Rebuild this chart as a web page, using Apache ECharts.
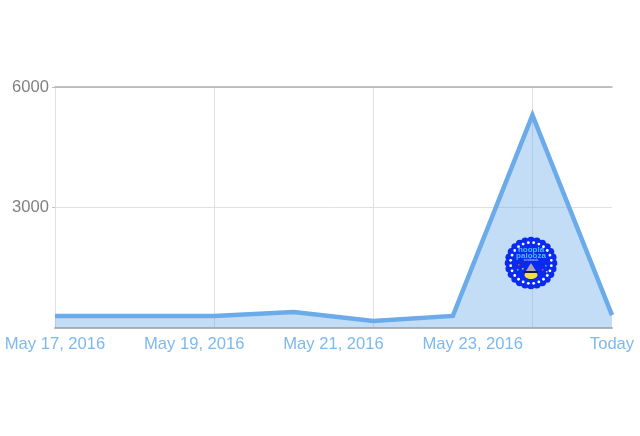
<!DOCTYPE html>
<html><head><meta charset="utf-8">
<style>html,body{margin:0;padding:0;background:#fff}#c{width:640px;height:436px}</style>
<script src="https://cdn.jsdelivr.net/npm/echarts@6/dist/echarts.min.js"></script>
</head><body><div id="c"></div>
<script>
const days = ['May 17','May 18','May 19','May 20','May 21','May 22','May 23','Today'];
const visits = [300,300,300,400,175,300,5300,320];
const xTickLabels = ['May 17, 2016','May 19, 2016','May 21, 2016','May 23, 2016','Today'];
const yTicks = [3000,6000];
const badgeTitle = ['hoopla','palooza'];
const badgeTagline = 'wristbands';

const chart = echarts.init(document.getElementById('c'), null, {renderer:'canvas'});
const font = '"Liberation Sans", Arial, sans-serif';
const cx = 531, cy = 263;
const blue = '#0a2af2';
const badge = [];
for (let i=0;i<24;i++){
  const a = i/24*Math.PI*2;
  badge.push({type:'circle',shape:{cx:cx+22.5*Math.cos(a),cy:cy+22.5*Math.sin(a),r:3.8},style:{fill:blue}});
}
badge.push({type:'circle',shape:{cx,cy,r:23},style:{fill:blue}});
for (let i=0;i<24;i++){
  const a = (i+0.5)/24*Math.PI*2;
  badge.push({type:'circle',shape:{cx:cx+20.5*Math.cos(a),cy:cy+20.5*Math.sin(a),r:1.4},style:{fill:'#ffffff'}});
}
badge.push({type:'text',style:{x:cx,y:cy-13.5,text:badgeTitle[0],fill:'#52b8f8',font:'bold 8px '+font,align:'center',verticalAlign:'middle'}});
badge.push({type:'text',style:{x:cx,y:cy-7,text:badgeTitle[1],fill:'#52b8f8',font:'bold 8px '+font,align:'center',verticalAlign:'middle'}});
badge.push({type:'text',style:{x:cx,y:cy-2.5,text:badgeTagline,fill:'#c8d8ff',font:'3px '+font,align:'center',verticalAlign:'middle'}});
badge.push({type:'polygon',shape:{points:[[cx,cy+0],[cx+5,cy+8],[cx-5,cy+8]]},style:{fill:'#a6a6b4'}});
badge.push({type:'ellipse',shape:{cx,cy:cy+12,rx:6.5,ry:4},style:{fill:'#f0e040'}});
badge.push({type:'rect',shape:{x:cx-7,y:cy+8,width:14,height:2},style:{fill:'#1c1c40'}});
[[-13,1,'#e04040'],[14,2,'#50d060'],[-9,5,'#e0d040'],[11,6,'#e04090'],[-14,6,'#40d0c0'],[15,8,'#e0d040']].forEach(d=>{
  badge.push({type:'rect',shape:{x:cx+d[0],y:cy+d[1],width:1.5,height:1.5},style:{fill:d[2]}});
});
badge.forEach((b,i)=>{b.z=100;b.zlevel=1;b.silent=true;});

chart.setOption({
  animation:false,
  backgroundColor:'#fff',
  textStyle:{fontFamily:font},
  grid:{left:55,right:28,top:87,bottom:108,containLabel:false},
  xAxis:[
    {type:'category',data:days,boundaryGap:false,
     axisLine:{show:true,lineStyle:{color:'#b5b5b5',width:2}},
     axisTick:{show:false},axisLabel:{show:false},
     splitLine:{show:true,interval:1,lineStyle:{color:'#e0e0e0',width:1}}},
    {type:'category',data:xTickLabels,boundaryGap:false,position:'bottom',
     axisLine:{show:false},axisTick:{show:false},splitLine:{show:false},
     axisLabel:{show:true,interval:0,color:'#7cb9f0',fontSize:16.6,margin:8,fontFamily:font}},
    {type:'category',data:days,boundaryGap:false,position:'top',
     axisLine:{show:true,lineStyle:{color:'#b0b0b0',width:1.5}},
     axisTick:{show:false},axisLabel:{show:false},splitLine:{show:false}}
  ],
  yAxis:{type:'value',min:0,max:6000,interval:3000,
    axisLine:{show:false},
    axisTick:{show:true,length:3,customValues:yTicks,lineStyle:{color:'#c0c0c0'}},
    axisLabel:{show:true,customValues:yTicks,formatter:v=>String(v),padding:[4,0,0,0],color:'#808080',fontSize:16.6,margin:6,fontFamily:font},
    splitLine:{show:true,lineStyle:{color:'#e0e0e0',width:1}}},
  series:[{type:'line',data:visits,xAxisIndex:0,showSymbol:false,symbol:'none',smooth:false,
    lineStyle:{color:'#6cabea',width:4.5,join:'miter'},
    areaStyle:{color:'rgba(108,171,234,0.4)',opacity:1},clip:true}],
  graphic:{elements:[{type:'group',silent:true,z:100,zlevel:1,children:badge}]}
});
</script></body></html>
